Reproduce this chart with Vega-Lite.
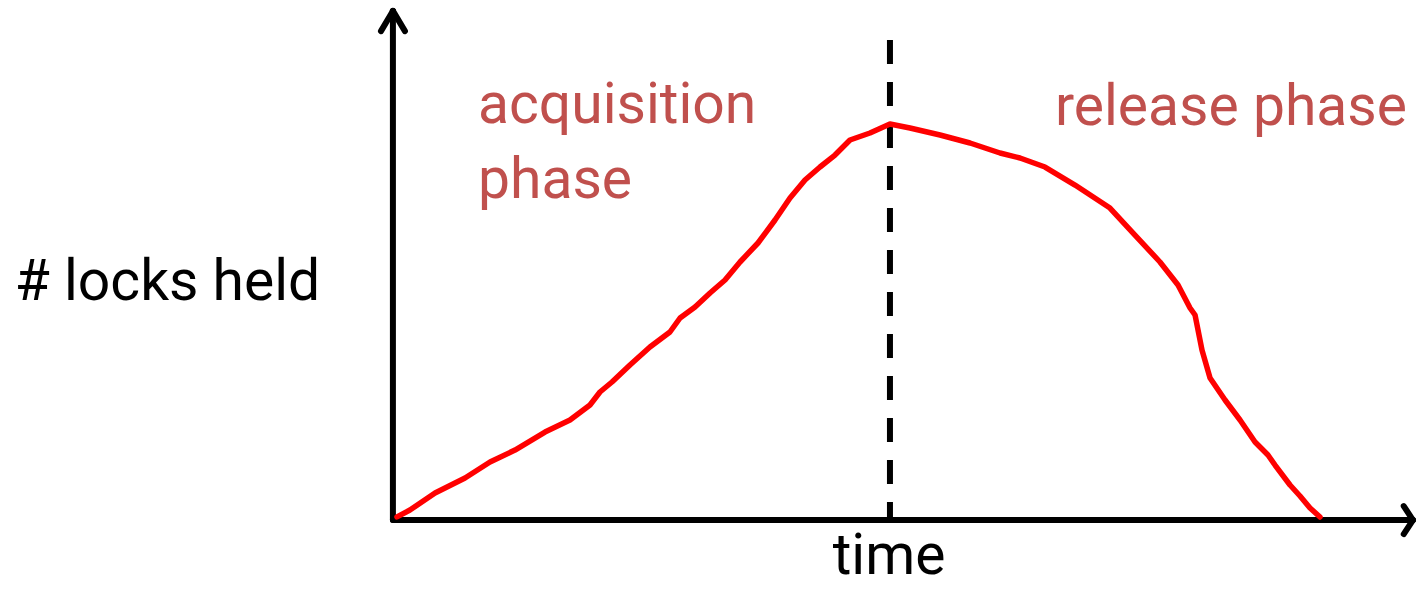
{
  "$schema": "https://vega.github.io/schema/vega-lite/v6.json",
  "autosize": {"type": "none"},
  "width": 1417,
  "height": 591,
  "padding": 0,
  "background": "white",
  "config": {"view": {"stroke": null}},
  "datasets": {
    "curve": [
      {"t": 0, "n": 0.4}, {"t": 1.27, "n": 1.73}, {"t": 3.73, "n": 5.01}, {"t": 6.67, "n": 7.9},
      {"t": 9.12, "n": 10.98}, {"t": 11.57, "n": 13.29}, {"t": 14.51, "n": 16.76}, {"t": 16.96, "n": 19.08},
      {"t": 18.92, "n": 21.97}, {"t": 19.9, "n": 24.47}, {"t": 21.08, "n": 26.4}, {"t": 22.84, "n": 29.67},
      {"t": 24.8, "n": 33.14}, {"t": 26.76, "n": 36.03}, {"t": 27.75, "n": 38.73}, {"t": 29.22, "n": 40.85},
      {"t": 30.69, "n": 43.55}, {"t": 32.16, "n": 46.05}, {"t": 33.63, "n": 49.52}, {"t": 35.39, "n": 53.18},
      {"t": 37.06, "n": 57.61}, {"t": 38.53, "n": 61.85}, {"t": 40.0, "n": 65.32}, {"t": 41.47, "n": 67.82},
      {"t": 42.94, "n": 70.13}, {"t": 44.41, "n": 73.03}, {"t": 46.37, "n": 74.37}, {"t": 48.33, "n": 76.1},
      {"t": 50.29, "n": 75.34}, {"t": 53.24, "n": 73.99}, {"t": 56.18, "n": 72.45}, {"t": 59.12, "n": 70.52},
      {"t": 61.08, "n": 69.56}, {"t": 63.53, "n": 67.82}, {"t": 66.47, "n": 64.35}, {"t": 69.9, "n": 59.92},
      {"t": 72.35, "n": 54.72}, {"t": 74.8, "n": 49.52}, {"t": 76.57, "n": 45.09}, {"t": 77.75, "n": 40.66},
      {"t": 78.24, "n": 39.31}, {"t": 78.92, "n": 32.56}, {"t": 79.71, "n": 27.17}, {"t": 81.18, "n": 22.93},
      {"t": 82.65, "n": 19.08}, {"t": 84.12, "n": 14.84}, {"t": 85.39, "n": 12.33}, {"t": 86.08, "n": 10.4},
      {"t": 87.55, "n": 6.55}, {"t": 88.53, "n": 4.43}, {"t": 89.51, "n": 2.12}, {"t": 90.49, "n": 0.39}
    ],
    "axes": [
      {"t": -0.4, "n": -0.2, "t2": -0.4, "n2": 97.9},
      {"t": -0.4, "n": -0.2, "t2": 99.6, "n2": -0.2},
      {"t": -0.4, "n": 97.9, "t2": -1.57, "n2": 94.0},
      {"t": -0.4, "n": 97.9, "t2": 0.78, "n2": 94.0},
      {"t": 99.6, "n": -0.2, "t2": 98.7, "n2": 2.5},
      {"t": 99.6, "n": -0.2, "t2": 98.7, "n2": -2.9}
    ],
    "divider": [{"t": 48.33, "n": 92.29, "n2": -0.2}],
    "blackText": [
      {"t": -22.5, "n": 42.2, "label": "# locks held"}
    ],
    "bottomText": [
      {"t": 48.24, "n": -13.0, "label": "time"}
    ],
    "redText": [
      {"t": 7.94, "n": 76.3, "label": "acquisition"},
      {"t": 7.94, "n": 61.85, "label": "phase"},
      {"t": 64.51, "n": 75.92, "label": "release phase"}
    ]
  },
  "encoding": {
    "x": {"field": "t", "type": "quantitative", "scale": {"domain": [-38.92, 100], "nice": false, "zero": false}, "axis": null},
    "y": {"field": "n", "type": "quantitative", "scale": {"domain": [-13.87, 100], "nice": false, "zero": false}, "axis": null}
  },
  "layer": [
    {
      "data": {"name": "axes"},
      "mark": {"type": "rule", "color": "black", "strokeWidth": 6, "strokeCap": "round"},
      "encoding": {"x2": {"field": "t2"}, "y2": {"field": "n2"}}
    },
    {
      "data": {"name": "divider"},
      "mark": {"type": "rule", "color": "black", "strokeWidth": 6, "strokeDash": [24, 18]},
      "encoding": {"y2": {"field": "n2"}}
    },
    {
      "data": {"name": "curve"},
      "mark": {"type": "line", "color": "#FF0000", "strokeWidth": 5.5, "strokeJoin": "round", "strokeCap": "round"},
      "encoding": {}
    },
    {
      "data": {"name": "blackText"},
      "mark": {"type": "text", "color": "black", "font": "Roboto", "fontSize": 57, "align": "center", "baseline": "alphabetic"},
      "encoding": {"text": {"field": "label"}}
    },
    {
      "data": {"name": "bottomText"},
      "mark": {"type": "text", "color": "black", "font": "Roboto", "fontSize": 57, "align": "center", "baseline": "bottom"},
      "encoding": {"text": {"field": "label"}}
    },
    {
      "data": {"name": "redText"},
      "mark": {"type": "text", "color": "#C0504D", "font": "Roboto", "fontSize": 57, "align": "left", "baseline": "alphabetic"},
      "encoding": {"text": {"field": "label"}}
    }
  ]
}
